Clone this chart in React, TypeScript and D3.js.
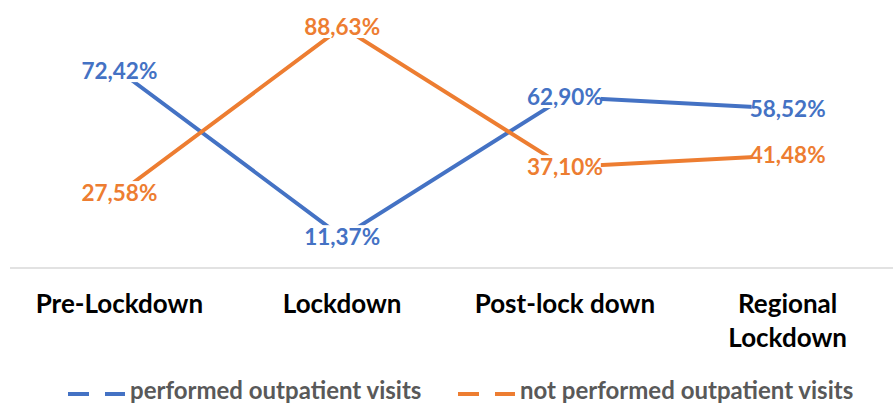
import React, { useEffect, useRef } from 'react';
import * as d3 from 'd3';

const categories = ['Pre-Lockdown', 'Lockdown', 'Post-lock down', 'Regional Lockdown'];
const performed = [72.42, 11.37, 62.9, 58.52];
const notPerformed = [27.58, 88.63, 37.1, 41.48];
const seriesNames = ['performed outpatient visits', 'not performed outpatient visits'];
const colors = ['#4472C4', '#ED7D31'];

const W = 893;
const H = 405;
const FONT = 'Lato, "Open Sans", sans-serif';

const App: React.FC = () => {
    const svgRef = useRef<SVGSVGElement | null>(null);

    useEffect(() => {
        if (!svgRef.current) return;
        const svg = d3.select(svgRef.current);
        svg.selectAll('*').remove();

        const x = d3.scalePoint<string>()
            .domain(categories)
            .range([8, 899])
            .padding(0.5);

        const y = d3.scaleLinear()
            .domain([0, 100])
            .range([268, -4]);

        // baseline
        svg.append('line')
            .attr('x1', 10).attr('x2', W)
            .attr('y1', y(0)).attr('y2', y(0))
            .attr('stroke', '#d9d9d9')
            .attr('stroke-width', 1.5);

        // category labels
        const cat = svg.append('g');
        categories.forEach((c) => {
            const words = c === 'Regional Lockdown' ? ['Regional', 'Lockdown'] : [c];
            const t = cat.append('text')
                .attr('x', x(c)!)
                .attr('y', 313)
                .attr('text-anchor', 'middle')
                .attr('font-family', FONT)
                .attr('font-weight', 700)
                .attr('font-size', 26)
                .attr('fill', '#000');
            words.forEach((w, i) => {
                t.append('tspan')
                    .attr('x', x(c)!)
                    .attr('dy', i === 0 ? 0 : 34)
                    .text(w);
            });
        });

        const line = d3.line<number>()
            .x((_, i) => x(categories[i])!)
            .y((d) => y(d));

        const all = [performed, notPerformed];
        all.forEach((data, s) => {
            svg.append('path')
                .datum(data)
                .attr('fill', 'none')
                .attr('stroke', colors[s])
                .attr('stroke-width', 4)
                .attr('d', line);
        });

        // data labels with white boxes covering the lines
        const fmt = (v: number) => v.toFixed(2).replace('.', ',') + '%';
        all.forEach((data, s) => {
            data.forEach((v, i) => {
                const g = svg.append('g');
                const cx = x(categories[i])!;
                const cy = y(v);
                const rect = g.append('rect').attr('fill', '#fff');
                const t = g.append('text')
                    .attr('x', cx)
                    .attr('y', cy)
                    .attr('dy', '0.36em')
                    .attr('text-anchor', 'middle')
                    .attr('font-family', FONT)
                    .attr('font-weight', 700)
                    .attr('font-size', 22.5)
                    .attr('fill', colors[s])
                    .text(fmt(v));
                const b = (t.node() as SVGTextElement).getBBox();
                rect.attr('x', b.x + 2).attr('y', b.y + 2)
                    .attr('width', b.width - 4).attr('height', b.height - 4);
            });
        });

        // legend
        const leg = [{ x0: 68, tx: 130 }, { x0: 458, tx: 520 }];
        leg.forEach((l, s) => {
            const g = svg.append('g');
            g.append('line')
                .attr('x1', l.x0).attr('x2', l.x0 + 57)
                .attr('y1', 394).attr('y2', 394)
                .attr('stroke', colors[s])
                .attr('stroke-width', 4)
                .attr('stroke-dasharray', '21,16,20');
            g.append('text')
                .attr('x', l.tx)
                .attr('y', 399)
                .attr('font-family', FONT)
                .attr('font-weight', 700)
                .attr('font-size', 24)
                .attr('fill', '#595959')
                .text(seriesNames[s]);
        });
    }, []);

    return (
        <svg
            ref={svgRef}
            width={W}
            height={H}
            style={{ position: 'absolute', left: 0, top: 0, background: '#fff' }}
        />
    );
};

export default App;
